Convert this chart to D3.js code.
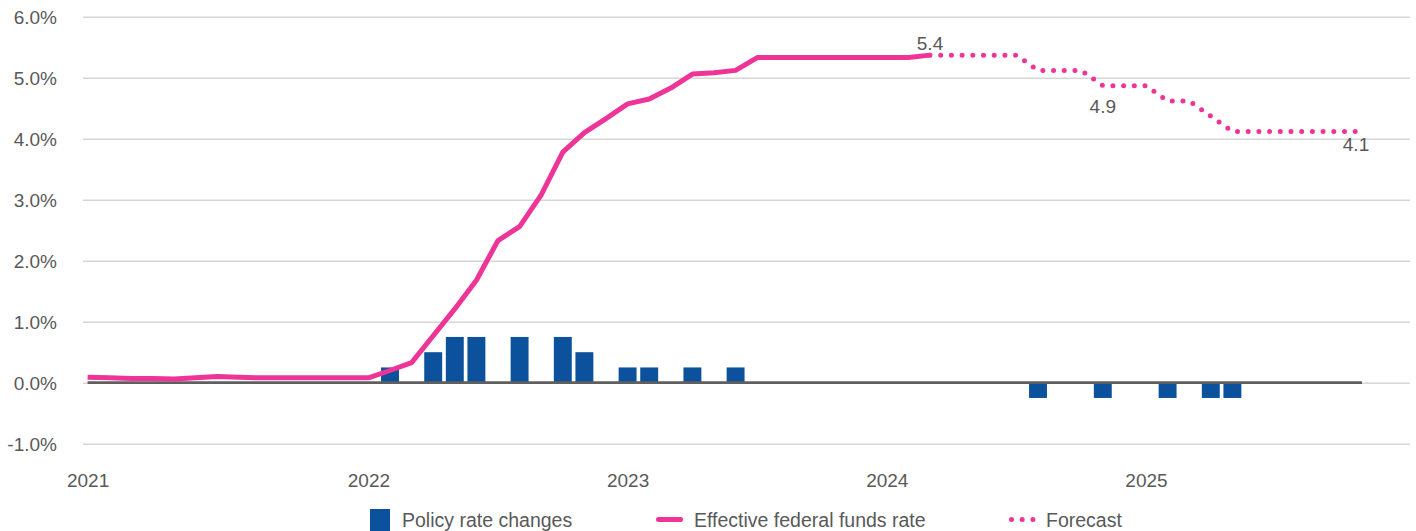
<!DOCTYPE html>
<html>
<head>
<meta charset="utf-8">
<script src="https://cdn.jsdelivr.net/npm/d3@7"></script>
<style>
  html, body { margin: 0; padding: 0; background: #ffffff; }
  svg { display: block; }
  text { font-family: "Liberation Sans", Arial, sans-serif; fill: #595959; }
</style>
</head>
<body>
<svg id="chart" width="1416" height="531"></svg>
<script>
// Monthly categories, Jan 2021 to Dec 2025
const months = d3.timeMonth
  .range(new Date(2021, 0, 1), new Date(2026, 0, 1))
  .map(d3.timeFormat("%Y-%m"));

// Effective federal funds rate, monthly average (%), from Jan 2021
const effectiveStart = "2021-01";
const effectiveRate = [
  0.09, 0.08, 0.07, 0.07, 0.06, 0.08, 0.10, 0.09, 0.08, 0.08, 0.08, 0.08,
  0.08, 0.08, 0.20, 0.33, 0.77, 1.21, 1.68, 2.33, 2.56, 3.08, 3.78, 4.10,
  4.33, 4.57, 4.65, 4.83, 5.06, 5.08, 5.12, 5.33, 5.33, 5.33, 5.33, 5.33,
  5.33, 5.33, 5.33, 5.37
];

// Forecast path (%), from Apr 2024
const forecastStart = "2024-04";
const forecastRate = [
  5.37, 5.37, 5.37, 5.37, 5.37, 5.12, 5.12, 5.12, 4.87,
  4.87, 4.87, 4.62, 4.62, 4.37, 4.12, 4.12, 4.12, 4.12, 4.12, 4.12, 4.12
];

// Policy rate changes (percentage points)
const policyMonths = [
  "2022-03", "2022-05", "2022-06", "2022-07", "2022-09", "2022-11", "2022-12",
  "2023-02", "2023-03", "2023-05", "2023-07",
  "2024-09", "2024-12", "2025-03", "2025-05", "2025-06"
];
const policyChanges = [
  0.25, 0.50, 0.75, 0.75, 0.75, 0.75, 0.50,
  0.25, 0.25, 0.25, 0.25,
  -0.25, -0.25, -0.25, -0.25, -0.25
];

// Axis ticks
const yTicks = [-1, 0, 1, 2, 3, 4, 5, 6];
const yearLabels = ["2021", "2022", "2023", "2024", "2025"];
const yearLabelMonths = ["2021-01", "2022-02", "2023-02", "2024-02", "2025-02"];

// Months whose forecast value is written on the chart
const valueLabelMonths = ["2024-04", "2024-12", "2025-12"];

// Legend entries
const legendNames = ["Policy rate changes", "Effective federal funds rate", "Forecast"];

const colors = { bar: "#0B519C", line: "#EE3496", zero: "#5f5f5f", grid: "#d6d6d6" };

const svg = d3.select("#chart");
const plotLeft = 83, plotRight = 1410;

const x = d3.scalePoint().domain(months).range([87.6, 1362]);
const y = d3.scaleLinear().domain([-1, 6]).range([443.7, 16.7]);

// Series as {month, value}
const effective = effectiveRate.map((v, i) => ({ month: months[months.indexOf(effectiveStart) + i], value: v }));
const forecast = forecastRate.map((v, i) => ({ month: months[months.indexOf(forecastStart) + i], value: v }));
const policy = policyMonths.map((m, i) => ({ month: m, value: policyChanges[i] }));

// Y axis with gridlines
const yAxis = d3.axisLeft(y)
  .tickValues(yTicks)
  .tickSize(-(plotRight - plotLeft))
  .tickPadding(26)
  .tickFormat(d => d.toFixed(1) + "%");

const yG = svg.append("g")
  .attr("transform", `translate(${plotLeft},0)`)
  .call(yAxis);
yG.select(".domain").remove();
yG.selectAll(".tick line").attr("stroke", colors.grid).attr("stroke-width", 1.4);
yG.selectAll(".tick text")
  .attr("font-size", 19)
  .attr("fill", "#595959")
  .attr("dy", "0.34em");

// Year labels on the x axis
const xAxis = d3.axisBottom(x)
  .tickValues(yearLabelMonths)
  .tickSize(0)
  .tickPadding(0)
  .tickFormat((d, i) => yearLabels[i]);
const xG = svg.append("g")
  .attr("transform", "translate(0,467.5)")
  .call(xAxis);
xG.select(".domain").remove();
xG.selectAll(".tick text")
  .attr("font-size", 19)
  .attr("fill", "#595959")
  .attr("dy", "1.0em");

// Policy rate change bars
const barW = x.step() * 0.83;
svg.append("g")
  .selectAll("rect")
  .data(policy)
  .join("rect")
  .attr("x", d => x(d.month) - barW / 2)
  .attr("width", barW)
  .attr("y", d => y(Math.max(0, d.value)))
  .attr("height", d => Math.abs(y(d.value) - y(0)))
  .attr("fill", colors.bar);

// Zero line across the data range
svg.append("line")
  .attr("x1", x(months[0]))
  .attr("x2", x(months[months.length - 1]))
  .attr("y1", y(0))
  .attr("y2", y(0))
  .attr("stroke", colors.zero)
  .attr("stroke-width", 2.8);

const line = d3.line()
  .x(d => x(d.month))
  .y(d => y(d.value));

// Forecast (dotted)
svg.append("path")
  .datum(forecast)
  .attr("d", line)
  .attr("fill", "none")
  .attr("stroke", colors.line)
  .attr("stroke-width", 5)
  .attr("stroke-linecap", "round")
  .attr("stroke-dasharray", "0 10.7")
  .attr("stroke-dashoffset", -10.7);

// Effective federal funds rate (solid)
svg.append("path")
  .datum(effective)
  .attr("d", line)
  .attr("fill", "none")
  .attr("stroke", colors.line)
  .attr("stroke-width", 5)
  .attr("stroke-linejoin", "round")
  .attr("stroke-linecap", "butt");

// Value labels on the forecast path
const labelPlacement = [
  { dx: 0, dy: -5 },
  { dx: 0, dy: 27.5 },
  { dx: -6, dy: 19.5 }
];
svg.append("g")
  .selectAll("text")
  .data(valueLabelMonths)
  .join("text")
  .attr("x", (m, i) => x(m) + labelPlacement[i].dx)
  .attr("y", (m, i) => y(forecast.find(d => d.month === m).value) + labelPlacement[i].dy)
  .attr("text-anchor", "middle")
  .attr("font-size", 19)
  .text(m => d3.format(".1f")(forecast.find(d => d.month === m).value));

// Legend
const legend = svg.append("g");
const legendX = [370, 656, 1009];
const legendY = 519.5;

legend.append("rect")
  .attr("x", legendX[0]).attr("y", 509)
  .attr("width", 20).attr("height", 22)
  .attr("fill", colors.bar);

legend.append("line")
  .attr("x1", legendX[1] + 2.5).attr("x2", legendX[1] + 24.5)
  .attr("y1", legendY).attr("y2", legendY)
  .attr("stroke", colors.line)
  .attr("stroke-width", 5)
  .attr("stroke-linecap", "round");

legend.append("line")
  .attr("x1", legendX[2] + 2.5).attr("x2", legendX[2] + 27)
  .attr("y1", legendY).attr("y2", legendY)
  .attr("stroke", colors.line)
  .attr("stroke-width", 5)
  .attr("stroke-linecap", "round")
  .attr("stroke-dasharray", "0 10.7");

const legendTextX = [402, 694, 1046];
legend.selectAll("text")
  .data(legendNames)
  .join("text")
  .attr("x", (d, i) => legendTextX[i])
  .attr("y", legendY)
  .attr("dy", "0.36em")
  .attr("font-size", 19.5)
  .text(d => d);
</script>
</body>
</html>
